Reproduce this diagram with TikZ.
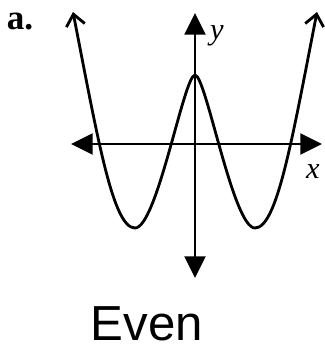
\documentclass[tikz,border=0pt]{standalone}
\usepackage{fontspec}
\usetikzlibrary{arrows.meta}
\newfontfamily\serifb{Liberation Serif}
\newfontfamily\handfont{Liberation Sans}
\tikzset{axis/.style={draw=black,line width=2pt,{Triangle[length=6.5mm,width=6.3mm]}-{Triangle[length=6.5mm,width=6.3mm]}},
curve/.style={draw=black,line width=2.4pt,line join=round,{Straight Barb[length=3.4mm,width=5.6mm]}-{Straight Barb[length=3.4mm,width=5.6mm]}},
lab/.style={inner sep=0pt,font=\serifb\fontsize{26}{28}\selectfont\itshape}}

\begin{document}
\begin{tikzpicture}[x=0.3mm,y=-0.3mm]
\useasboundingbox (0,0) rectangle (324,351);
\coordinate (xl) at (71,144);
\coordinate (xr) at (322,144);
\coordinate (yt) at (195,13);
\coordinate (yb) at (195,278);
\coordinate (top1) at (73,12);
\coordinate (min1) at (135,228);
\coordinate (peak) at (195,75);
\coordinate (min2) at (255,228);
\coordinate (top2) at (317,12);
\draw[axis] (xl) -- (xr);
\draw[axis] (yb) -- (yt);
\draw[curve] (top1) .. controls (98,140) and (113,228) .. (min1)
  .. controls (157,228) and (184,75) .. (peak)
  .. controls (206,75) and (233,228) .. (min2)
  .. controls (277,228) and (292,140) .. (top2);
\node[inner sep=0pt,font=\serifb\fontsize{30}{32}\selectfont\bfseries] (part) at (20,21) {a.};
\node[lab] (ylab) at (217,36) {y};
\node[lab] (xlab) at (313,172) {x};
\node[inner sep=0pt,font=\handfont\fontsize{42}{44}\selectfont] (answer) at (147,324) {Even};
\end{tikzpicture}
\end{document}
